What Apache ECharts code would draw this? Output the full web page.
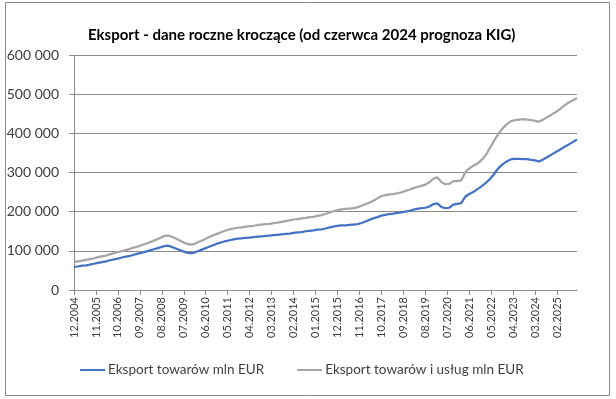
<!DOCTYPE html>
<html><head><meta charset="utf-8">
<script src="https://cdn.jsdelivr.net/npm/echarts@6/dist/echarts.min.js"></script>
<style>html,body{margin:0;padding:0;background:#fff}#c{width:616px;height:399px}</style>
</head><body><div id="c"></div>
<script>
// Months from 12.2004 to 12.2025
const startYear = 2004, startMonth = 12, monthCount = 253;
const categories = [];
for (let i = 0; i < monthCount; i++) {
  const m0 = startMonth - 1 + i;
  const y = startYear + Math.floor(m0 / 12);
  const m = (m0 % 12) + 1;
  categories.push((m < 10 ? '0' : '') + m + '.' + y);
}
// Eksport towarów, mln EUR (values read in thousands of mln EUR)
const goodsK = [
59,60,60,61,62,62,63,64,65,66,67,68,69,70,71,72,73,75,76,77,78,79,80,82,83,84,85,86,87,89,
90,91,93,94,95,97,98,100,101,102,104,105,107,108,110,112,113,113,112,110,108,106,104,102,100,98,96,95,94,94,
95,97,99,101,103,105,107,109,111,113,115,117,119,120,122,123,125,126,127,128,129,130,131,131,132,132,133,133,134,134,
135,135,136,136,137,137,138,138,139,139,140,140,141,141,142,143,143,144,144,145,146,146,147,148,148,149,150,150,151,152,
152,153,154,155,155,156,157,158,160,161,162,163,164,164,165,165,165,166,166,167,167,168,168,170,171,173,175,177,179,181,
183,185,186,188,190,191,192,193,194,194,195,196,197,197,198,199,200,201,202,204,205,206,207,208,209,209,210,211,213,216,
219,220,221,217,212,209,209,210,210,211,218,219,220,220,222,230,238,243,245,247,250,253,257,260,264,268,272,276,281,287,
293,300,307,313,318,322,325,329,332,334,335,335,335,335,335,334,334,334,333,332,332,331,330,328,330,333,336,339,342,345,
348,351,354,357,360,363,366,369,372,375,378,381,384
];
// Eksport towarów i usług, mln EUR (thousands)
const goodsServicesK = [
71,72,73,74,75,76,77,78,79,80,81,82,84,85,86,87,88,90,91,92,94,95,97,98,99,101,102,104,105,107,
108,110,111,113,115,117,118,120,122,124,126,128,130,132,135,137,139,139,138,136,134,132,129,126,124,121,119,117,116,116,
117,119,122,124,126,128,131,133,136,138,140,142,144,146,148,150,152,153,155,156,157,158,159,160,160,161,162,162,163,164,
164,165,166,166,167,167,168,169,169,170,171,171,172,173,174,175,176,177,178,179,180,181,181,182,183,184,184,185,186,186,
187,188,189,190,191,193,194,196,198,200,201,203,204,205,206,206,207,207,208,209,209,210,211,213,215,217,219,221,223,225,
228,231,234,237,240,241,242,243,244,245,245,246,247,248,249,251,253,254,256,258,260,262,263,265,266,268,269,271,275,280,
284,287,288,283,276,272,270,270,271,274,278,280,278,276,280,290,300,306,310,314,317,320,323,326,331,336,341,350,360,368,
377,386,394,401,408,414,419,424,428,431,433,434,434,435,435,436,435,435,434,434,433,432,431,430,432,435,438,441,444,447,
450,453,456,460,464,468,472,476,479,482,484,487,490
];
const goods = goodsK.map(v => v * 1000);
const goodsServices = goodsServicesK.map(v => v * 1000);
const seriesNames = ['Eksport towarów mln EUR', 'Eksport towarów i usług mln EUR'];
const yTicks = [0, 100000, 200000, 300000, 400000, 500000, 600000];

const chart = echarts.init(document.getElementById('c'), null, {renderer: 'canvas'});
const font = 'Lato, "Open Sans", sans-serif';
chart.setOption({
  animation: false,
  backgroundColor: '#fff',
  title: {
    text: 'Eksport - dane roczne kroczące (od czerwca 2024 prognoza KIG)',
    left: 83, top: 23,
    textStyle: {fontFamily: font, fontSize: 15, fontWeight: 'bold', color: '#000'}
  },
  graphic: [{
    type: 'rect', shape: {x: 5.5, y: 2.5, width: 604, height: 393},
    style: {fill: 'none', stroke: '#8a8a8a', lineWidth: 1}, silent: true
  }],
  grid: {left: 74, right: 39, top: 55, bottom: 109, containLabel: false},
  legend: {
    left: 75, top: 358, itemWidth: 25, itemHeight: 2, itemGap: 33, icon: 'rect',
    textStyle: {fontFamily: font, fontSize: 13.5, color: '#404040', padding: [0, 0, 0, -2]},
    data: seriesNames
  },
  xAxis: {
    type: 'category', data: categories, boundaryGap: false,
    axisLine: {lineStyle: {color: '#8c8c8c', width: 1}},
    axisTick: {interval: 10, length: 5, lineStyle: {color: '#8c8c8c'}},
    axisLabel: {interval: 10, rotate: 90, margin: 7, fontFamily: font, fontSize: 11, color: '#404040'},
    splitLine: {show: false}
  },
  yAxis: {
    type: 'value', min: yTicks[0], max: yTicks[yTicks.length - 1], interval: yTicks[1] - yTicks[0],
    axisLine: {show: true, lineStyle: {color: '#8c8c8c', width: 1}},
    axisTick: {show: true, length: 5, lineStyle: {color: '#8c8c8c'}},
    axisLabel: {
      margin: 15, fontFamily: font, fontSize: 14, color: '#404040',
      formatter: v => v === 0 ? '0' : String(v).replace(/\B(?=(\d{3})+(?!\d))/g, ' ')
    },
    splitLine: {lineStyle: {color: '#8c8c8c', width: 1}}
  },
  series: [
    {name: seriesNames[0], type: 'line', data: goods, symbol: 'none', color: '#4472C4',
     lineStyle: {width: 2.25, color: '#4472C4'}},
    {name: seriesNames[1], type: 'line', data: goodsServices, symbol: 'none', color: '#A5A5A5',
     lineStyle: {width: 2.25, color: '#A5A5A5'}}
  ]
});
</script>
</body></html>
